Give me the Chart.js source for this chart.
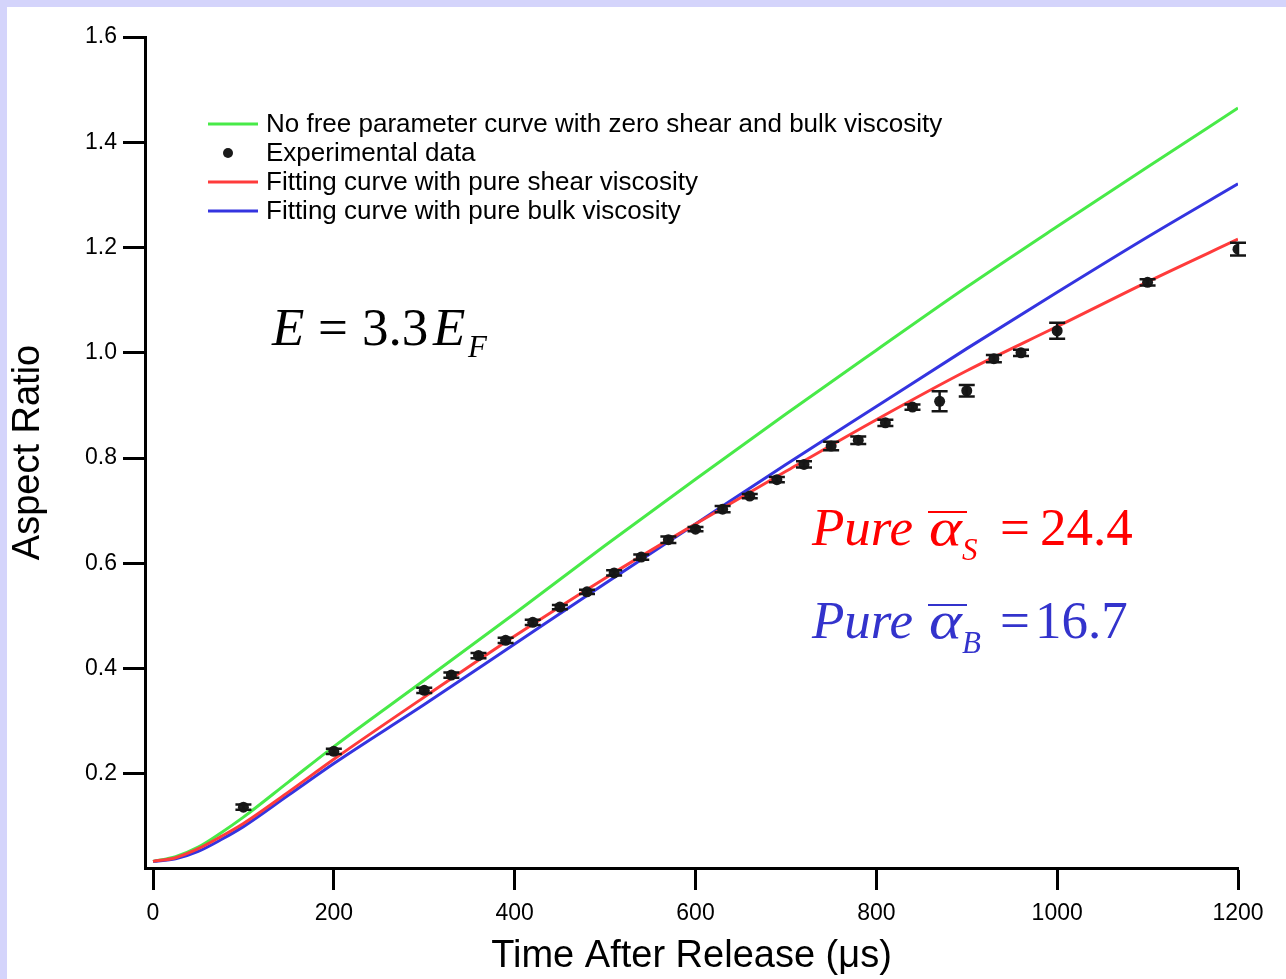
<!DOCTYPE html>
<html>
<head>
<meta charset="utf-8">
<script src="https://cdn.jsdelivr.net/npm/chart.js@4.4.1/dist/chart.umd.min.js"></script>
<style>
body { margin: 0; background: #d4d4fb; width: 1286px; height: 979px; overflow: hidden; position: relative; }
#panel { position: absolute; left: 7px; top: 7px; right: 0; bottom: 0; background: #fff; }
#c { position: absolute; left: 0; top: 0; }
</style>
</head>
<body>
<div id="panel"></div>
<canvas id="c" width="1286" height="979"></canvas>
<script>
// time axis values (µs) for the model curves
const curveTime = [0, 25, 50, 75, 100, 150, 200, 300, 400, 500, 600, 700, 800, 900, 1000, 1100, 1200];
const noViscosity = [0.034, 0.043, 0.061, 0.088, 0.118, 0.185, 0.252, 0.378, 0.505, 0.634, 0.760, 0.884, 1.005, 1.125, 1.240, 1.353, 1.465];
const shearFit = [0.034, 0.041, 0.058, 0.081, 0.106, 0.166, 0.228, 0.346, 0.462, 0.572, 0.675, 0.775, 0.873, 0.966, 1.050, 1.135, 1.216];
const bulkFit = [0.034, 0.039, 0.053, 0.075, 0.100, 0.160, 0.220, 0.332, 0.447, 0.562, 0.675, 0.788, 0.898, 1.008, 1.115, 1.220, 1.321];

// experimental points
const expTime = [100, 200, 300, 330, 360, 390, 420, 450, 480, 510, 540, 570, 600, 630, 660, 690, 720, 750, 780, 810, 840, 870, 900, 930, 960, 1000, 1100, 1200];
const expRatio = [0.137, 0.243, 0.359, 0.388, 0.425, 0.454, 0.488, 0.517, 0.546, 0.582, 0.612, 0.645, 0.665, 0.703, 0.728, 0.759, 0.788, 0.823, 0.834, 0.867, 0.897, 0.908, 0.928, 0.989, 1.000, 1.042, 1.134, 1.197];
const expError = [0.005, 0.005, 0.005, 0.005, 0.005, 0.005, 0.005, 0.004, 0.004, 0.005, 0.005, 0.006, 0.004, 0.006, 0.004, 0.005, 0.006, 0.008, 0.007, 0.006, 0.005, 0.019, 0.011, 0.007, 0.006, 0.015, 0.006, 0.012];

const xTicks = [0, 200, 400, 600, 800, 1000, 1200];
const yTicks = [0.2, 0.4, 0.6, 0.8, 1.0, 1.2, 1.4, 1.6];

const legendOrder = [3, 0, 1, 2];

const toXY = (xs, ys) => xs.map((v, i) => ({x: v, y: ys[i]}));

const SERIF = '"Liberation Serif", "Times New Roman", serif';
const SANS = '"Liberation Sans", Arial, sans-serif';

const errorBars = {
    id: 'errorBars',
    afterDatasetsDraw(chart) {
        const {ctx, scales: {x, y}} = chart;
        ctx.save();
        ctx.strokeStyle = '#151515';
        ctx.lineWidth = 2.5;
        expTime.forEach((t, i) => {
            const px = x.getPixelForValue(t);
            const top = y.getPixelForValue(expRatio[i] + expError[i]);
            const bot = y.getPixelForValue(expRatio[i] - expError[i]);
            ctx.beginPath();
            ctx.moveTo(px, top); ctx.lineTo(px, bot);
            ctx.moveTo(px - 8, top); ctx.lineTo(px + 8, top);
            ctx.moveTo(px - 8, bot); ctx.lineTo(px + 8, bot);
            ctx.stroke();
        });
        ctx.restore();
    }
};

const insetLegend = {
    id: 'insetLegend',
    afterDraw(chart) {
        const ctx = chart.ctx;
        ctx.save();
        ctx.font = '26px ' + SANS;
        ctx.textBaseline = 'middle';
        legendOrder.forEach((idx, row) => {
            const ds = chart.data.datasets[idx];
            const yy = 124 + row * 29;
            if (ds.showLine === false) {
                ctx.beginPath();
                ctx.arc(228, yy, 5, 0, Math.PI * 2);
                ctx.fillStyle = ds.backgroundColor;
                ctx.fill();
            } else {
                ctx.strokeStyle = ds.borderColor;
                ctx.lineWidth = 3;
                ctx.beginPath();
                ctx.moveTo(208, yy); ctx.lineTo(258, yy);
                ctx.stroke();
            }
            ctx.fillStyle = '#000';
            ctx.fillText(ds.label, 266, yy + 1);
        });
        ctx.restore();
    }
};

// formula labels: pieces of text laid out along a baseline
function drawPieces(ctx, pieces, baseline, color) {
    ctx.fillStyle = color;
    ctx.textBaseline = 'alphabetic';
    pieces.forEach(p => {
        ctx.save();
        ctx.font = p.font;
        ctx.translate(p.x, baseline + (p.dy || 0));
        if (p.sx) ctx.scale(p.sx, 1);
        ctx.fillText(p.t, 0, 0);
        ctx.restore();
    });
}

const formulas = {
    id: 'formulas',
    afterDraw(chart) {
        const ctx = chart.ctx;
        const it = 'italic 53px ' + SERIF;
        const up = '53px ' + SERIF;
        const sub = 'italic 31px ' + SERIF;
        ctx.save();
        drawPieces(ctx, [
            {t: 'E', x: 272, font: it},
            {t: '=', x: 318, font: up},
            {t: '3.3', x: 362, font: up},
            {t: 'E', x: 433, font: it},
            {t: 'F', x: 468, dy: 12, font: sub}
        ], 345, '#000');

        const rows = [
            {base: 545, bar: 511, color: '#ff0000', s: 'S', rhs: '24.4', rx: 1040},
            {base: 638, bar: 604, color: '#3333cc', s: 'B', rhs: '16.7', rx: 1035}
        ];
        rows.forEach(r => {
            drawPieces(ctx, [
                {t: 'Pure', x: 812, font: it},
                {t: 'α', x: 929, sx: 1.18, font: it},
                {t: r.s, x: 962, dy: 15, font: sub},
                {t: '=', x: 1000, font: up},
                {t: r.rhs, x: r.rx, font: up}
            ], r.base, r.color);
            ctx.fillRect(928, r.bar, 39, 2);
        });
        ctx.restore();
    }
};

const tickFont = {family: SANS, size: 23};
const titleFont = {family: SANS, size: 38};

new Chart(document.getElementById('c'), {
    type: 'line',
    data: {
        datasets: [
            {
                label: 'Experimental data',
                data: toXY(expTime, expRatio),
                showLine: false,
                pointRadius: 5.5,
                pointBorderWidth: 0,
                backgroundColor: '#1a1a1a',
                borderColor: '#1a1a1a'
            },
            {
                label: 'Fitting curve with pure shear viscosity',
                data: toXY(curveTime, shearFit),
                borderColor: '#ff3b3b',
                borderWidth: 3,
                pointRadius: 0,
                cubicInterpolationMode: 'monotone'
            },
            {
                label: 'Fitting curve with pure bulk viscosity',
                data: toXY(curveTime, bulkFit),
                borderColor: '#3434e0',
                borderWidth: 3,
                pointRadius: 0,
                cubicInterpolationMode: 'monotone'
            },
            {
                label: 'No free parameter curve with zero shear and bulk viscosity',
                data: toXY(curveTime, noViscosity),
                borderColor: '#48ea48',
                borderWidth: 3,
                pointRadius: 0,
                cubicInterpolationMode: 'monotone'
            }
        ]
    },
    options: {
        responsive: false,
        animation: false,
        devicePixelRatio: 1,
        layout: {padding: {left: 0, top: 37, right: 48, bottom: 0}},
        plugins: {legend: {display: false}, tooltip: {enabled: false}},
        scales: {
            x: {
                type: 'linear',
                min: -8.85,
                max: 1200,
                afterFit: s => { s.height = 111; },
                afterBuildTicks: s => { s.ticks = xTicks.map(v => ({value: v})); },
                border: {color: '#000', width: 3},
                grid: {drawOnChartArea: false, tickLength: 22, tickWidth: 3, tickColor: '#000'},
                ticks: {color: '#000', font: tickFont, padding: 10, maxRotation: 0, callback: v => String(v)},
                title: {display: true, text: 'Time After Release (μs)', color: '#000', font: titleFont, padding: {top: 3, bottom: 0}}
            },
            y: {
                type: 'linear',
                min: 0.0214,
                max: 1.6,
                afterFit: s => { s.width = 145; },
                afterBuildTicks: s => { s.ticks = yTicks.map(v => ({value: v})); },
                border: {color: '#000', width: 3},
                grid: {drawOnChartArea: false, tickLength: 22, tickWidth: 3, tickColor: '#000'},
                ticks: {color: '#000', font: tickFont, padding: 6, callback: v => v.toFixed(1)},
                title: {display: true, text: 'Aspect Ratio', color: '#000', font: titleFont, padding: {top: 6, bottom: 0}}
            }
        }
    },
    plugins: [errorBars, insetLegend, formulas]
});
</script>
</body>
</html>
